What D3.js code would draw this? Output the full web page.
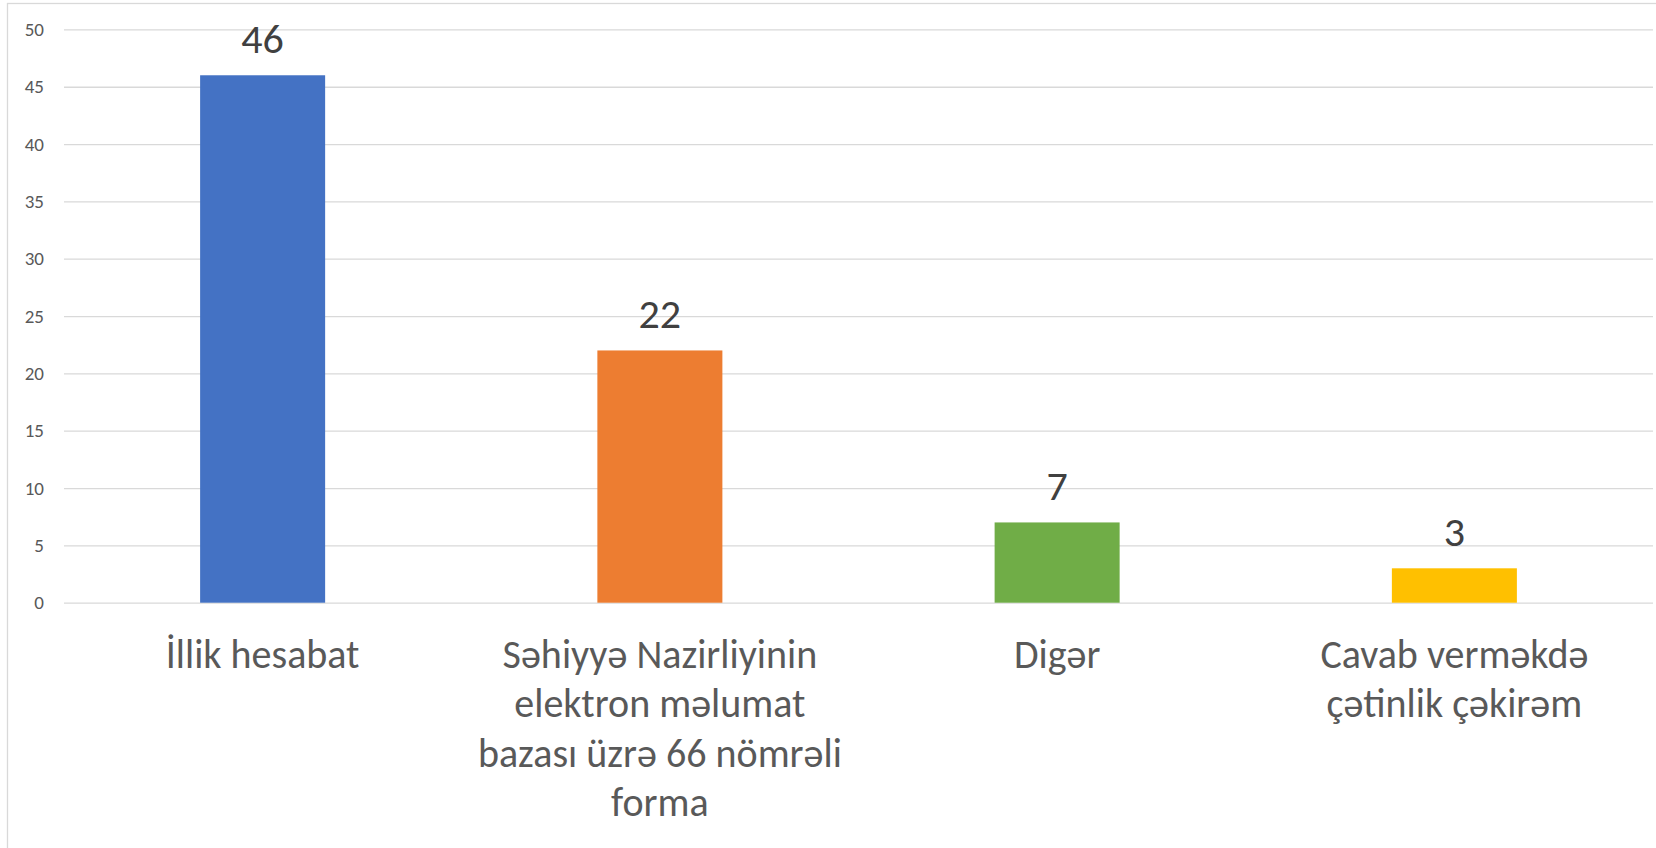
<!DOCTYPE html>
<html>
<head>
<meta charset="utf-8">
<script src="https://cdn.jsdelivr.net/npm/d3@7"></script>
<style>
  html, body { margin: 0; padding: 0; background: #fff; }
  svg { display: block; font-family: Carlito, Calibri, Lato, sans-serif; }
</style>
</head>
<body>
<script>
// categories (already broken in lines as on the chart)
const categories = [
    ["İllik hesabat"],
    ["Səhiyyə Nazirliyinin", "elektron məlumat", "bazası üzrə 66 nömrəli", "forma"],
    ["Digər"],
    ["Cavab verməkdə", "çətinlik çəkirəm"]
];
const values = [46, 22, 7, 3];
const colors = ["#4472C4", "#ED7D31", "#70AD47", "#FFC000"];
const yTicks = [0, 5, 10, 15, 20, 25, 30, 35, 40, 45, 50];

const W = 1656, H = 848;
const plot = { left: 64, right: 1653, top: 29.4, bottom: 602.7 };

const svg = d3.select("body").append("svg")
    .attr("width", W)
    .attr("height", H);

// chart border
svg.append("rect")
    .attr("x", 7.5).attr("y", 3.5)
    .attr("width", W).attr("height", H)
    .attr("fill", "none")
    .attr("stroke", "#d9d9d9")
    .attr("stroke-width", 1.3);

const x = d3.scaleBand()
    .domain(d3.range(categories.length))
    .range([plot.left, plot.right])
    .paddingInner(0.6853)
    .paddingOuter(0.6853 / 2);

const y = d3.scaleLinear()
    .domain([0, 50])
    .range([plot.bottom, plot.top]);

// gridlines + y labels
const yAxis = svg.append("g")
    .attr("transform", "translate(" + plot.left + ",0)")
    .call(d3.axisLeft(y).tickValues(yTicks).tickSize(-(plot.right - plot.left)).tickPadding(20));
yAxis.select(".domain").remove();
yAxis.selectAll(".tick line")
    .attr("stroke", "#d9d9d9")
    .attr("stroke-width", 1.3);
yAxis.selectAll(".tick text")
    .attr("fill", "#595959")
    .attr("font-size", "19px")
    .attr("font-family", "Carlito, Calibri, Lato, sans-serif");

// bars
svg.selectAll("rect.bar")
    .data(values)
    .enter()
    .append("rect")
    .attr("class", "bar")
    .attr("x", (d, i) => x(i))
    .attr("y", d => y(d))
    .attr("width", x.bandwidth())
    .attr("height", d => y(0) - y(d))
    .attr("fill", (d, i) => colors[i]);

// data labels
svg.selectAll("text.val")
    .data(values)
    .enter()
    .append("text")
    .attr("class", "val")
    .attr("x", (d, i) => x(i) + x.bandwidth() / 2)
    .attr("y", d => y(d) - 22)
    .attr("text-anchor", "middle")
    .attr("font-size", "42px")
    .attr("fill", "#404040")
    .text(d => d);

// category labels
const cat = svg.selectAll("text.cat")
    .data(categories)
    .enter()
    .append("text")
    .attr("class", "cat")
    .attr("text-anchor", "middle")
    .attr("font-size", "40px")
    .attr("fill", "#595959");

cat.selectAll("tspan")
    .data((d, i) => d.map(line => ({ line, i })))
    .enter()
    .append("tspan")
    .attr("x", d => x(d.i) + x.bandwidth() / 2)
    .attr("y", (d, j) => 668 + j * 49.3)
    .text(d => d.line);
</script>
</body>
</html>
